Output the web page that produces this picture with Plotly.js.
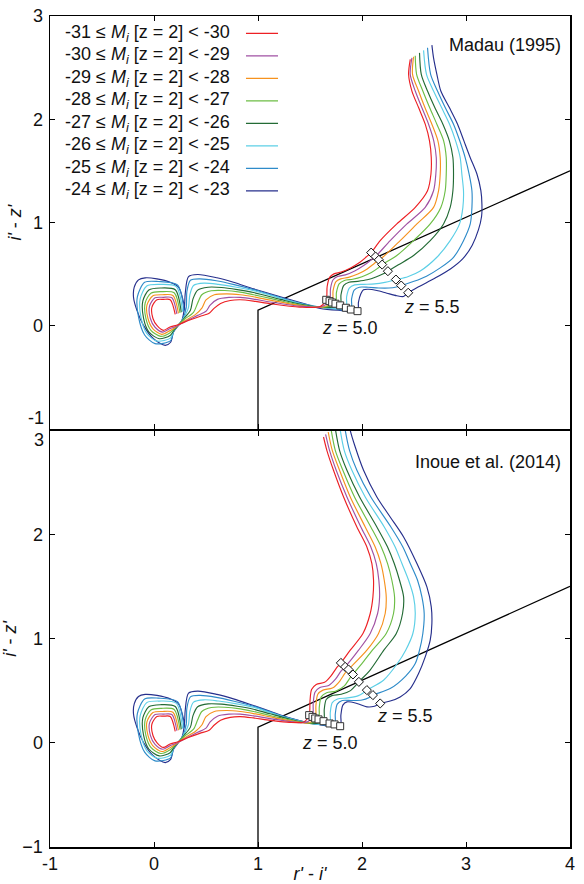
<!DOCTYPE html>
<html>
<head>
<meta charset="utf-8">
<script src="https://cdn.plot.ly/plotly-3.0.1.min.js"></script>
<style>html,body{margin:0;padding:0;background:#fff}</style>
</head>
<body>
<div id="chart" style="width:584px;height:884px"></div>
<script>
// Magnitude bins (M_i at z = 2) for the quasar colour tracks
const binLabels = [
  "-31 ≤ <i>M<sub>i</sub></i> [z = 2] &lt; -30",
  "-30 ≤ <i>M<sub>i</sub></i> [z = 2] &lt; -29",
  "-29 ≤ <i>M<sub>i</sub></i> [z = 2] &lt; -28",
  "-28 ≤ <i>M<sub>i</sub></i> [z = 2] &lt; -27",
  "-27 ≤ <i>M<sub>i</sub></i> [z = 2] &lt; -26",
  "-26 ≤ <i>M<sub>i</sub></i> [z = 2] &lt; -25",
  "-25 ≤ <i>M<sub>i</sub></i> [z = 2] &lt; -24",
  "-24 ≤ <i>M<sub>i</sub></i> [z = 2] &lt; -23"
];
const lineColors = ['#ed2024','#a051a3','#f6921e','#6cbd45','#236b35','#5ccfe6','#2e8bc9','#262f8c'];

// Low-redshift part of each track [r'-i', i'-z'] (same for both IGM models)
const low31 = [[0.204,0.109],[0.156,0.252],[0.090,0.255],[0.028,0.252],[-0.020,0.180],[-0.010,0.070],[0.030,0.000],[0.090,-0.045],[0.149,-0.015],[0.230,0.010],[0.330,0.050],[0.440,0.090],[0.530,0.120],[0.580,0.170],[0.640,0.215],[0.733,0.244],[0.829,0.251],[0.957,0.238]];
const low30 = [[0.220,0.115],[0.172,0.271],[0.090,0.275],[0.010,0.270],[-0.043,0.190],[-0.035,0.070],[0.010,-0.015],[0.085,-0.062],[0.150,-0.030],[0.225,0.000],[0.320,0.050],[0.420,0.100],[0.500,0.140],[0.540,0.200],[0.610,0.255],[0.720,0.274],[0.829,0.274],[0.957,0.258]];
const low29 = [[0.235,0.120],[0.182,0.293],[0.080,0.300],[-0.010,0.290],[-0.068,0.200],[-0.058,0.070],[-0.010,-0.030],[0.075,-0.084],[0.150,-0.050],[0.215,-0.010],[0.300,0.050],[0.400,0.110],[0.460,0.170],[0.500,0.250],[0.580,0.300],[0.700,0.309],[0.829,0.300],[0.957,0.280]];
const low28 = [[0.250,0.125],[0.194,0.319],[0.070,0.330],[-0.030,0.315],[-0.085,0.220],[-0.078,0.070],[-0.030,-0.045],[0.065,-0.103],[0.152,-0.070],[0.205,-0.020],[0.290,0.060],[0.380,0.130],[0.420,0.220],[0.460,0.300],[0.550,0.338],[0.680,0.341],[0.829,0.325],[0.957,0.300]];
const low27 = [[0.262,0.130],[0.204,0.348],[0.060,0.365],[-0.050,0.345],[-0.107,0.240],[-0.100,0.070],[-0.050,-0.060],[0.050,-0.126],[0.155,-0.095],[0.195,-0.040],[0.280,0.060],[0.350,0.150],[0.375,0.260],[0.420,0.345],[0.520,0.373],[0.650,0.370],[0.800,0.350],[0.957,0.322]];
const low26 = [[0.275,0.135],[0.213,0.380],[0.050,0.400],[-0.070,0.385],[-0.133,0.260],[-0.125,0.080],[-0.070,-0.075],[0.030,-0.149],[0.158,-0.120],[0.190,-0.050],[0.275,0.060],[0.330,0.170],[0.345,0.300],[0.380,0.390],[0.480,0.412],[0.620,0.400],[0.780,0.375],[0.957,0.340]];
const low25 = [[0.288,0.140],[0.226,0.395],[0.040,0.428],[-0.090,0.420],[-0.160,0.280],[-0.150,0.090],[-0.090,-0.090],[0.010,-0.174],[0.160,-0.145],[0.188,-0.055],[0.272,0.055],[0.310,0.175],[0.316,0.330],[0.350,0.440],[0.440,0.454],[0.600,0.435],[0.770,0.398],[0.957,0.350]];
const low24 = [[0.300,0.148],[0.236,0.373],[0.156,0.421],[0.028,0.454],[-0.085,0.464],[-0.149,0.444],[-0.190,0.373],[-0.197,0.276],[-0.164,0.148],[-0.101,0.003],[-0.005,-0.126],[0.108,-0.190],[0.160,-0.160],[0.188,-0.062],[0.268,0.051],[0.293,0.180],[0.300,0.309],[0.332,0.476],[0.420,0.496],[0.605,0.464],[0.764,0.421],[0.957,0.357]];

// High-redshift part with Madau (1995) IGM attenuation
const madau31 = [[1.117,0.213],[1.400,0.180],[1.598,0.186],[1.656,0.251],[1.665,0.380],[1.690,0.470],[1.730,0.502],[1.800,0.520],[1.890,0.560],[1.980,0.615],[2.040,0.665],[2.088,0.708],[2.175,0.824],[2.335,0.986],[2.512,1.146],[2.630,1.307],[2.663,1.469],[2.666,1.629],[2.649,1.791],[2.608,1.952],[2.544,2.113],[2.480,2.273],[2.448,2.435],[2.464,2.580]];
const madau30 = [[1.117,0.230],[1.400,0.190],[1.600,0.183],[1.688,0.238],[1.697,0.360],[1.722,0.445],[1.765,0.476],[1.840,0.492],[1.930,0.530],[2.020,0.585],[2.085,0.635],[2.130,0.670],[2.271,0.824],[2.432,0.986],[2.608,1.146],[2.688,1.307],[2.710,1.469],[2.714,1.629],[2.690,1.791],[2.640,1.952],[2.575,2.113],[2.512,2.273],[2.464,2.435],[2.480,2.595]];
const madau29 = [[1.117,0.248],[1.400,0.196],[1.610,0.180],[1.713,0.225],[1.722,0.340],[1.748,0.425],[1.795,0.454],[1.870,0.468],[1.960,0.500],[2.050,0.550],[2.115,0.600],[2.162,0.638],[2.207,0.670],[2.367,0.824],[2.528,0.986],[2.688,1.146],[2.736,1.307],[2.752,1.469],[2.752,1.629],[2.730,1.791],[2.672,1.952],[2.605,2.113],[2.544,2.273],[2.486,2.435],[2.496,2.605]];
const madau28 = [[1.117,0.265],[1.400,0.202],[1.620,0.178],[1.745,0.213],[1.754,0.320],[1.780,0.405],[1.830,0.438],[1.910,0.450],[2.000,0.475],[2.090,0.515],[2.150,0.555],[2.194,0.592],[2.335,0.680],[2.496,0.824],[2.656,0.986],[2.758,1.146],[2.800,1.307],[2.810,1.469],[2.810,1.629],[2.785,1.791],[2.720,1.952],[2.650,2.113],[2.585,2.273],[2.525,2.435],[2.512,2.614]];
const madau27 = [[1.117,0.280],[1.400,0.210],[1.640,0.175],[1.790,0.197],[1.798,0.300],[1.825,0.390],[1.875,0.421],[1.960,0.430],[2.050,0.445],[2.140,0.475],[2.210,0.505],[2.249,0.528],[2.350,0.590],[2.496,0.680],[2.656,0.824],[2.784,0.986],[2.848,1.146],[2.874,1.307],[2.880,1.469],[2.874,1.629],[2.840,1.791],[2.778,1.952],[2.700,2.113],[2.630,2.273],[2.570,2.435],[2.553,2.643]];
const madau26 = [[1.117,0.295],[1.400,0.215],[1.660,0.172],[1.845,0.174],[1.852,0.280],[1.878,0.365],[1.930,0.396],[2.020,0.400],[2.120,0.405],[2.220,0.420],[2.285,0.435],[2.326,0.447],[2.440,0.475],[2.560,0.530],[2.720,0.663],[2.848,0.824],[2.938,0.986],[2.970,1.146],[2.976,1.307],[2.960,1.469],[2.944,1.629],[2.900,1.791],[2.842,1.952],[2.765,2.113],[2.688,2.273],[2.620,2.435],[2.592,2.667]];
const madau25 = [[1.117,0.302],[1.400,0.220],[1.680,0.170],[1.893,0.157],[1.900,0.260],[1.925,0.345],[1.975,0.373],[2.060,0.372],[2.160,0.365],[2.260,0.365],[2.330,0.375],[2.377,0.389],[2.500,0.430],[2.620,0.480],[2.752,0.560],[2.880,0.663],[2.976,0.824],[3.041,0.986],[3.057,1.146],[3.057,1.307],[3.030,1.469],[2.992,1.629],[2.940,1.791],[2.880,1.952],[2.800,2.113],[2.726,2.273],[2.660,2.435],[2.630,2.692]];
const madau24 = [[1.117,0.309],[1.406,0.225],[1.598,0.167],[1.790,0.148],[1.957,0.141],[1.966,0.228],[1.989,0.309],[2.014,0.348],[2.062,0.353],[2.143,0.341],[2.239,0.315],[2.335,0.290],[2.399,0.283],[2.444,0.319],[2.550,0.380],[2.700,0.460],[2.850,0.550],[2.970,0.650],[3.060,0.780],[3.120,0.930],[3.150,1.060],[3.153,1.179],[3.143,1.308],[3.105,1.469],[3.040,1.630],[2.980,1.790],[2.919,1.952],[2.840,2.113],[2.758,2.273],[2.720,2.435],[2.688,2.595],[2.672,2.718]];

// High-redshift part with Inoue et al. (2014) IGM attenuation
const inoue31 = [[1.117,0.215],[1.300,0.195],[1.440,0.200],[1.492,0.265],[1.500,0.400],[1.515,0.510],[1.560,0.560],[1.640,0.580],[1.700,0.640],[1.760,0.725],[1.797,0.766],[1.887,0.888],[2.009,1.048],[2.079,1.240],[2.105,1.399],[2.111,1.559],[2.095,1.719],[2.047,1.878],[1.951,2.070],[1.823,2.358],[1.726,2.614],[1.662,2.805],[1.630,2.933]];
const inoue30 = [[1.117,0.232],[1.300,0.205],[1.460,0.195],[1.524,0.248],[1.531,0.380],[1.548,0.485],[1.595,0.530],[1.680,0.550],[1.745,0.610],[1.800,0.690],[1.838,0.728],[1.967,0.888],[2.079,1.048],[2.150,1.240],[2.169,1.399],[2.162,1.559],[2.137,1.719],[2.085,1.878],[1.989,2.070],[1.855,2.358],[1.752,2.614],[1.688,2.805],[1.650,2.959]];
const inoue29 = [[1.117,0.248],[1.300,0.212],[1.480,0.190],[1.550,0.233],[1.557,0.360],[1.575,0.465],[1.625,0.505],[1.715,0.525],[1.785,0.590],[1.835,0.665],[1.870,0.703],[2.047,0.888],[2.159,1.048],[2.223,1.240],[2.233,1.399],[2.214,1.559],[2.182,1.719],[2.127,1.878],[2.031,2.070],[1.887,2.358],[1.784,2.614],[1.714,2.805],[1.675,2.981]];
const inoue28 = [[1.117,0.262],[1.300,0.220],[1.500,0.188],[1.582,0.224],[1.589,0.340],[1.608,0.440],[1.660,0.480],[1.750,0.495],[1.830,0.545],[1.880,0.615],[1.913,0.655],[1.999,0.760],[2.100,0.888],[2.233,1.048],[2.303,1.240],[2.313,1.399],[2.287,1.559],[2.246,1.719],[2.185,1.878],[2.085,2.070],[1.928,2.358],[1.816,2.614],[1.743,2.805],[1.704,2.997],[1.695,3.060]];
const inoue27 = [[1.117,0.278],[1.300,0.228],[1.520,0.183],[1.630,0.207],[1.637,0.320],[1.656,0.415],[1.710,0.452],[1.800,0.465],[1.890,0.500],[1.940,0.550],[1.970,0.584],[2.080,0.700],[2.210,0.888],[2.330,1.048],[2.390,1.240],[2.400,1.399],[2.361,1.559],[2.310,1.719],[2.246,1.878],[2.143,2.070],[1.977,2.358],[1.855,2.614],[1.784,2.805],[1.746,2.997],[1.737,3.060]];
const inoue26 = [[1.117,0.290],[1.300,0.233],[1.540,0.180],[1.688,0.185],[1.695,0.290],[1.714,0.385],[1.765,0.420],[1.860,0.430],[1.960,0.450],[2.015,0.480],[2.047,0.505],[2.207,0.600],[2.340,0.760],[2.420,0.888],[2.489,1.048],[2.512,1.240],[2.496,1.399],[2.448,1.559],[2.384,1.719],[2.319,1.878],[2.214,2.070],[2.031,2.358],[1.903,2.614],[1.829,2.805],[1.791,2.997],[1.782,3.060]];
const inoue25 = [[1.117,0.296],[1.300,0.237],[1.560,0.178],[1.736,0.176],[1.743,0.275],[1.762,0.370],[1.810,0.405],[1.900,0.405],[2.000,0.410],[2.070,0.435],[2.105,0.457],[2.271,0.520],[2.420,0.640],[2.512,0.760],[2.553,0.888],[2.585,1.048],[2.598,1.240],[2.576,1.399],[2.534,1.559],[2.464,1.719],[2.393,1.878],[2.278,2.070],[2.085,2.358],[1.951,2.614],[1.880,2.805],[1.839,2.997],[1.830,3.060]];
const inoue24 = [[1.117,0.302],[1.300,0.240],[1.580,0.175],[1.790,0.159],[1.797,0.265],[1.816,0.361],[1.855,0.392],[1.951,0.377],[2.047,0.344],[2.120,0.350],[2.175,0.377],[2.271,0.400],[2.367,0.440],[2.464,0.520],[2.544,0.664],[2.608,0.824],[2.656,0.984],[2.672,1.144],[2.666,1.303],[2.624,1.495],[2.528,1.719],[2.400,1.974],[2.271,2.166],[2.143,2.358],[2.015,2.614],[1.935,2.837],[1.887,2.997],[1.878,3.060]];

// Redshift markers along each track
const madauZ50X = [1.656,1.688,1.713,1.745,1.790,1.845,1.893,1.957];
const madauZ50Y = [0.251,0.238,0.225,0.213,0.197,0.174,0.157,0.141];
const madauZ55X = [2.088,2.130,2.162,2.194,2.249,2.326,2.377,2.444];
const madauZ55Y = [0.708,0.670,0.638,0.592,0.528,0.447,0.389,0.319];
const inoueZ50X = [1.492,1.524,1.550,1.582,1.630,1.688,1.736,1.790];
const inoueZ50Y = [0.265,0.248,0.233,0.224,0.207,0.185,0.176,0.159];
const inoueZ55X = [1.797,1.838,1.870,1.913,1.970,2.047,2.105,2.175];
const inoueZ55Y = [0.766,0.728,0.703,0.655,0.584,0.505,0.457,0.377];

// Colour selection boundary: r'-i' > 1.0 and i'-z' < 0.45(r'-i') - 0.3
const cutX = [1, 1, 4];
const cutY = [-1.3, 0.15, 1.5];

const xTickVals = [-1, 0, 1, 2, 3, 4];
const xTickText = ['-1', '0', '1', '2', '3', '4'];
const topYTickVals = [0, 1, 2, 3];
const botYTickVals = [-1, 0, 1, 2];

const lowParts = [low31, low30, low29, low28, low27, low26, low25, low24];
const madauParts = [madau31, madau30, madau29, madau28, madau27, madau26, madau25, madau24];
const inoueParts = [inoue31, inoue30, inoue29, inoue28, inoue27, inoue26, inoue25, inoue24];

const FONT = 'Liberation Sans, Arial, Helvetica, sans-serif';
const traces = [];

function addPanel(tails, xa, ya, z50x, z50y, z55x, z55y) {
  traces.push({x: cutX, y: cutY, xaxis: xa, yaxis: ya, mode: 'lines', type: 'scatter',
    line: {color: '#000', width: 1.3}, hoverinfo: 'skip'});
  for (let i = lowParts.length - 1; i >= 0; i--) {
    const pts = lowParts[i].concat(tails[i]);
    traces.push({
      x: pts.map(p => p[0]), y: pts.map(p => p[1]),
      xaxis: xa, yaxis: ya, type: 'scatter', mode: 'lines',
      line: {color: lineColors[i], width: 1.15, shape: 'spline', smoothing: 0.8},
      name: binLabels[i]
    });
  }
  traces.push({x: z50x, y: z50y, xaxis: xa, yaxis: ya, type: 'scatter', mode: 'markers',
    marker: {symbol: 'square', size: 7, color: '#fff', line: {color: '#333', width: 1}}});
  traces.push({x: z55x, y: z55y, xaxis: xa, yaxis: ya, type: 'scatter', mode: 'markers',
    marker: {symbol: 'diamond', size: 7, color: '#fff', line: {color: '#111', width: 1}}});
}

addPanel(madauParts, 'x2', 'y2', madauZ50X, madauZ50Y, madauZ55X, madauZ55Y);
addPanel(inoueParts, 'x', 'y', inoueZ50X, inoueZ50Y, inoueZ55X, inoueZ55Y);

// the two frames share one border line between the panels
const split = 0.5018, half = 0.75 / 831;
const axisCommon = {
  showline: true, linecolor: '#000', linewidth: 1.5, mirror: 'ticks',
  ticks: 'inside', ticklen: 5, tickwidth: 1, tickcolor: '#000',
  showgrid: false, zeroline: false, tickfont: {size: 18, color: '#111'}
};

// Legend drawn as text followed by a short line sample
const annotations = [];
const shapes = [];
const legTop = 0.9792, legStep = 0.02708;
binLabels.forEach((lab, i) => {
  const yy = legTop - i * legStep;
  annotations.push({xref: 'paper', yref: 'paper', x: 0.35, y: yy, xanchor: 'right', yanchor: 'middle',
    text: lab, showarrow: false, font: {size: 18, color: '#111'}});
  shapes.push({type: 'line', xref: 'paper', yref: 'paper', x0: 0.3769, x1: 0.4385, y0: yy, y1: yy,
    line: {color: lineColors[i], width: 1.3}});
});

annotations.push(
  {xref: 'paper', yref: 'paper', x: 0.9865, y: 0.965, xanchor: 'right', yanchor: 'middle',
   text: 'Madau (1995)', showarrow: false, font: {size: 18, color: '#111'}},
  {xref: 'paper', yref: 'paper', x: 0.9865, y: 0.4633, xanchor: 'right', yanchor: 'middle',
   text: 'Inoue et al. (2014)', showarrow: false, font: {size: 18, color: '#111'}},
  {xref: 'x2', yref: 'y2', x: 1.887, y: -0.026, text: '<i>z</i> = 5.0', showarrow: false,
   font: {size: 18, color: '#111'}},
  {xref: 'x2', yref: 'y2', x: 2.675, y: 0.18, text: '<i>z</i> = 5.5', showarrow: false,
   font: {size: 18, color: '#111'}},
  {xref: 'x', yref: 'y', x: 1.694, y: -0.007, text: '<i>z</i> = 5.0', showarrow: false,
   font: {size: 18, color: '#111'}},
  {xref: 'x', yref: 'y', x: 2.418, y: 0.255, text: '<i>z</i> = 5.5', showarrow: false,
   font: {size: 18, color: '#111'}},
  // edge tick labels nudged away from the shared panel border
  {xref: 'paper', yref: 'paper', x: -0.008, y: 0.5162, xanchor: 'right', yanchor: 'middle',
   text: '-1', showarrow: false, font: {size: 18, color: '#111'}},
  {xref: 'paper', yref: 'paper', x: -0.008, y: 0.4898, xanchor: 'right', yanchor: 'middle',
   text: '3', showarrow: false, font: {size: 18, color: '#111'}}
);

const layout = {
  width: 584, height: 884,
  margin: {l: 50, r: 14, t: 16, b: 37, pad: 0},
  paper_bgcolor: '#fff', plot_bgcolor: '#fff',
  showlegend: false,
  font: {family: FONT, size: 18, color: '#111'},
  xaxis: Object.assign({}, axisCommon, {
    domain: [0, 1], range: [-1, 4], anchor: 'y',
    tickvals: xTickVals, ticktext: xTickText,
    title: {text: "<i>r'</i> - <i>i'</i>", standoff: 6, font: {size: 18}}
  }),
  xaxis2: Object.assign({}, axisCommon, {
    domain: [0, 1], range: [-1, 4], anchor: 'y2',
    tickvals: xTickVals, showticklabels: false
  }),
  yaxis: Object.assign({}, axisCommon, {
    domain: [0, split - half], range: [-1, 2.993], anchor: 'x',
    tickvals: botYTickVals, ticklabelstandoff: 2,
    title: {text: "<i>i'</i> - <i>z'</i>", standoff: 6, font: {size: 18}}
  }),
  yaxis2: Object.assign({}, axisCommon, {
    domain: [split + half, 1], range: [-1.003, 3.0], anchor: 'x2',
    tickvals: topYTickVals, ticklabelstandoff: 2,
    title: {text: "<i>i'</i> - <i>z'</i>", standoff: 6, font: {size: 18}}
  }),
  annotations: annotations,
  shapes: shapes
};

Plotly.newPlot('chart', traces, layout, {staticPlot: true, displayModeBar: false});
</script>
</body>
</html>
